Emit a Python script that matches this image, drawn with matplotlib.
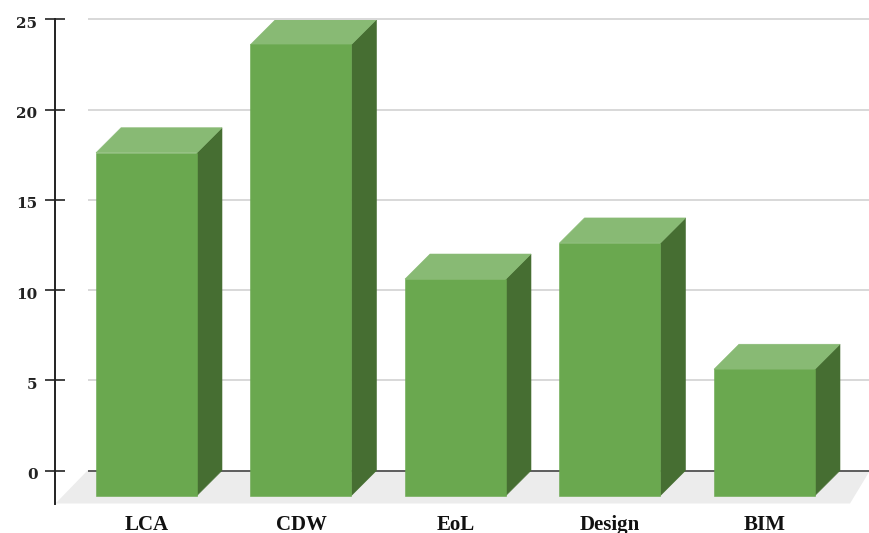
import matplotlib
matplotlib.use("Agg")
import matplotlib.pyplot as plt
from matplotlib.patches import Polygon
from matplotlib.transforms import ScaledTranslation

categories = ["LCA", "CDW", "EoL", "Design", "BIM"]
values = [19, 25, 12, 14, 7]
y_ticks = [0, 5, 10, 15, 20, 25]

W, H = 870, 533
FRONT, TOP, SIDE = "#6AA84F", "#88BA74", "#466E32"
FLOOR, GRID, AXIS = "#ECECEC", "#D2D2D2", "#222222"

fig = plt.figure(figsize=(W / 100, H / 100), dpi=100, facecolor="white")
L, R, T, B = 55.5, 870, 19.5, 503.5
ax = fig.add_axes([L / W, 1 - B / H, (R - L) / W, (B - T) / H])

# scale: one category = 154.5 px, one unit = 18.04 px
ax.set_xlim((L - 146.5) / 154.5, (R - 146.5) / 154.5)
ax.set_ylim((470.5 - B) / 18.04, 25)
x0, x1 = ax.get_xlim()
y0, y1 = ax.get_ylim()

dx = 25 / 154.5          # bar depth
dy = 25 / 18.04
bw = 101 / 154.5
fx = 32 / 154.5          # floor depth, left edge
fr = 20 / 154.5          # floor depth, right edge

ax.add_patch(Polygon([(x0, y0), (x0 + fx, 0), (x1, 0), (x1 - fr, y0)],
                     closed=True, fc=FLOOR, ec="none", zorder=1))
for t in y_ticks:
    ax.plot([x0 + fx, x1], [t, t], color="#444444" if t == 0 else GRID,
            lw=1.2, zorder=2, solid_capstyle="butt", clip_on=False)

for i, v in enumerate(values):
    l, r = i - bw / 2, i + bw / 2
    ax.add_patch(Polygon([(r, -dy), (r + dx, 0), (r + dx, v), (r, v - dy)],
                         closed=True, fc=SIDE, ec=SIDE, lw=0.4, zorder=3))
    ax.add_patch(Polygon([(l, v - dy), (l + dx, v), (r + dx, v), (r, v - dy)],
                         closed=True, fc=TOP, ec=TOP, lw=0.4, zorder=3))
    ax.add_patch(Polygon([(l, -dy), (l, v - dy), (r, v - dy), (r, -dy)],
                         closed=True, fc=FRONT, ec=FRONT, lw=0.4, zorder=4))

for s in ["top", "right", "bottom"]:
    ax.spines[s].set_visible(False)
ax.spines["left"].set_color(AXIS)
ax.spines["left"].set_linewidth(1.4)
ax.patch.set_alpha(0)

ax.set_yticks(y_ticks)
ax.set_yticklabels([str(t) for t in y_ticks], family="DejaVu Serif",
                   fontweight="bold", fontsize=11, color="#222222")
ax.tick_params(axis="y", direction="inout", length=14, width=1.2,
               color=AXIS, pad=6)
shift = ScaledTranslation(0, -3 / 100, fig.dpi_scale_trans)
for lab in ax.get_yticklabels():
    lab.set_transform(lab.get_transform() + shift)
ax.set_xticks(range(len(categories)))
ax.set_xticklabels(categories, family="Liberation Serif", fontweight="bold",
                   fontsize=15, color="#111111")
ax.tick_params(axis="x", length=0, pad=8)

fig.savefig("out.png", dpi=100, facecolor="white")
